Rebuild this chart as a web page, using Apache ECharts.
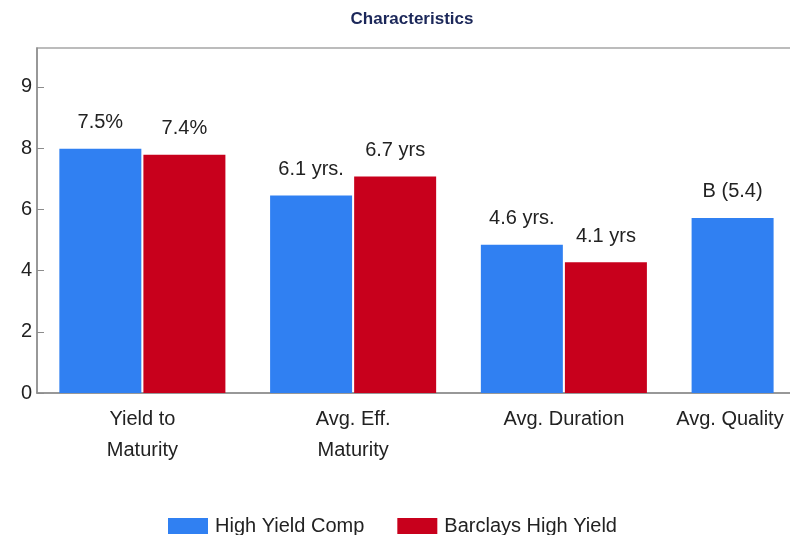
<!DOCTYPE html>
<html>
<head>
<meta charset="utf-8">
<script src="https://cdn.jsdelivr.net/npm/echarts@6/dist/echarts.min.js"></script>
<style>
html,body{margin:0;padding:0;background:#fff;}
#chart{width:790px;height:535px;}
</style>
</head>
<body>
<div id="chart"></div>
<script>
var categories = ['Yield to\nMaturity', 'Avg. Eff.\nMaturity', 'Avg. Duration', 'Avg. Quality'];
var seriesNames = ['High Yield Comp', 'Barclays High Yield'];
var highYieldComp = [7.98, 6.45, 4.84, 5.72];
var barclaysHighYield = [7.78, 7.07, 4.27, null];
var highYieldCompLabels = ['7.5%', '6.1 yrs.', '4.6 yrs.', 'B (5.4)'];
var barclaysLabels = ['7.4%', '6.7 yrs', '4.1 yrs', ''];
var yTickValues = [0, 2, 4, 6, 8, 10];
var yTickLabels = ['0', '2', '4', '6', '8', '9'];

var FONT = "'Liberation Sans', Arial, sans-serif";
var chart = echarts.init(document.getElementById('chart'), null, {renderer: 'canvas'});

var catData = categories.map(function (c, i) {
  if (i === categories.length - 1) {
    return {value: c, textStyle: {align: 'right', padding: [0, -9, 0, 0]}};
  }
  return c;
});

function labelFor(arr) {
  return function (p) { return arr[p.dataIndex]; };
}

chart.setOption({
  animation: false,
  backgroundColor: '#ffffff',
  title: {
    text: 'Characteristics',
    left: 407,
    textAlign: 'center',
    top: 6,
    textStyle: {fontFamily: "'Liberation Sans Narrow', " + FONT, fontWeight: 'bold', fontSize: 17, color: '#1b2759'}
  },
  legend: {
    left: 163,
    top: 511,
    icon: 'rect',
    itemWidth: 40,
    itemHeight: 16,
    itemGap: 33,
    textStyle: {fontFamily: FONT, fontSize: 20, color: '#222', padding: [0, 0, 0, 2]},
    data: seriesNames
  },
  grid: {
    left: 37,
    top: 48,
    width: 843,
    height: 345,
    show: true,
    borderColor: '#a6a6a6',
    borderWidth: 1.5,
    containLabel: false,
    outerBoundsMode: 'none'
  },
  xAxis: {
    type: 'category',
    data: catData,
    axisLine: {lineStyle: {color: '#8c8c8c', width: 1.5}},
    axisTick: {show: false},
    axisLabel: {fontFamily: FONT, fontSize: 20, color: '#222', margin: 11, lineHeight: 31, interval: 0}
  },
  yAxis: {
    type: 'value',
    min: 0,
    max: 11.27,
    interval: 2,
    splitLine: {show: false},
    axisLine: {show: true, lineStyle: {color: '#8c8c8c', width: 1.5}},
    axisTick: {show: true, inside: true, length: 7, customValues: yTickValues, lineStyle: {color: '#8c8c8c'}},
    axisLabel: {
      fontFamily: FONT, fontSize: 20, color: '#222', margin: 5,
      customValues: yTickValues,
      formatter: function (v) {
        var idx = yTickValues.indexOf(v);
        return idx >= 0 ? yTickLabels[idx] : '';
      }
    }
  },
  series: [
    {
      name: seriesNames[0],
      type: 'bar',
      data: highYieldComp,
      barWidth: 82,
      barGap: '2.5%',
      itemStyle: {color: '#3080f2'},
      label: {show: true, position: 'top', distance: 16, fontFamily: FONT, fontSize: 20, color: '#222', formatter: labelFor(highYieldCompLabels)}
    },
    {
      name: seriesNames[1],
      type: 'bar',
      data: barclaysHighYield,
      barWidth: 82,
      barGap: '2.5%',
      itemStyle: {color: '#c8001c'},
      label: {show: true, position: 'top', distance: 16, fontFamily: FONT, fontSize: 20, color: '#222', formatter: labelFor(barclaysLabels)}
    }
  ]
});
</script>
</body>
</html>
